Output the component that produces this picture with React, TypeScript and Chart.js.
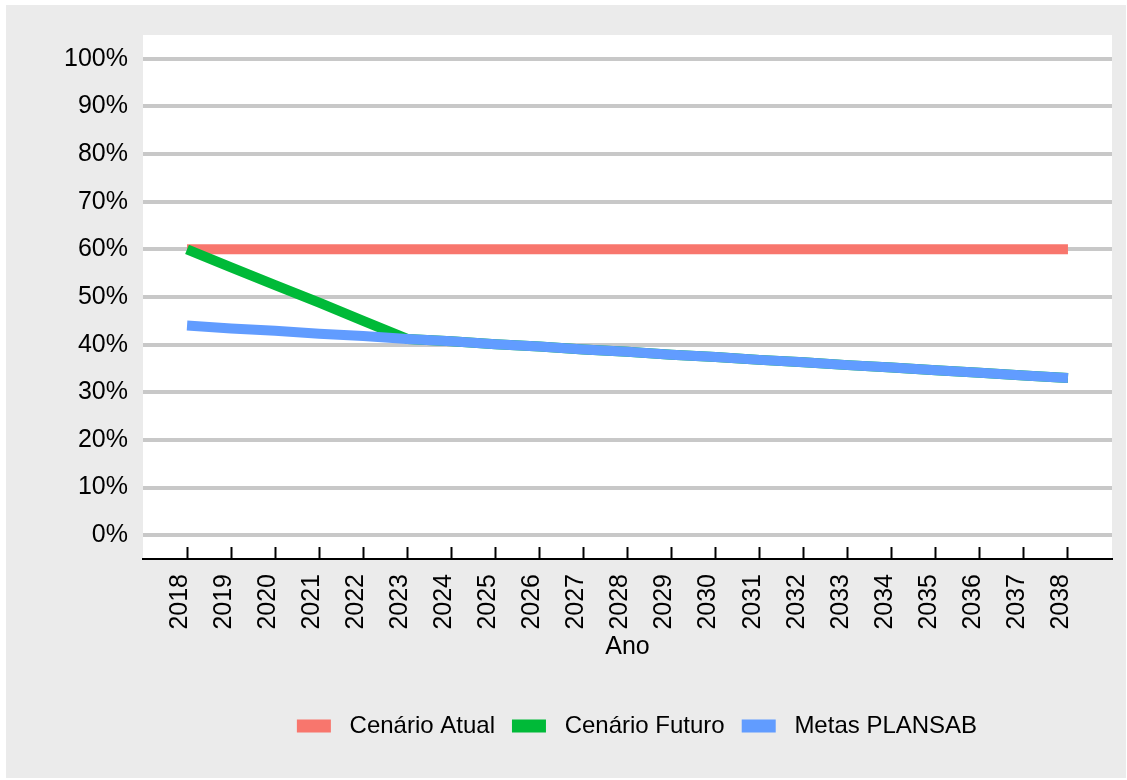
import React, { useEffect, useRef } from 'react';
import { Chart, registerables } from 'chart.js';

Chart.register(...registerables);

const years = [2018, 2019, 2020, 2021, 2022, 2023, 2024, 2025, 2026, 2027, 2028, 2029, 2030, 2031, 2032, 2033, 2034, 2035, 2036, 2037, 2038];
const cenarioAtual = [60, 60, 60, 60, 60, 60, 60, 60, 60, 60, 60, 60, 60, 60, 60, 60, 60, 60, 60, 60, 60];
const cenarioFuturo = [60, 56.2, 52.5, 48.8, 45, 41.2, 40.7, 40.1, 39.6, 39.0, 38.5, 37.9, 37.4, 36.8, 36.3, 35.7, 35.2, 34.6, 34.1, 33.5, 33];
const metasPlansab = [44, 43.4, 42.9, 42.3, 41.8, 41.2, 40.7, 40.1, 39.6, 39.0, 38.5, 37.9, 37.4, 36.8, 36.3, 35.7, 35.2, 34.6, 34.1, 33.5, 33];
const yTickValues = [0, 10, 20, 30, 40, 50, 60, 70, 80, 90, 100];
const seriesNames = ['Cenário Atual', 'Cenário Futuro', 'Metas PLANSAB'];
const xTitle = 'Ano';

const FONT = "'Liberation Sans', Arial, Helvetica, sans-serif";

const bgPlugin = {
  id: 'panelBg',
  beforeDraw(chart: any) {
    const { ctx, chartArea, width, height } = chart;
    ctx.save();
    ctx.fillStyle = '#EBEBEB';
    ctx.fillRect(0, 0, width, height);
    ctx.fillStyle = '#FFFFFF';
    ctx.fillRect(chartArea.left, chartArea.top, chartArea.right - chartArea.left, chartArea.bottom - chartArea.top);
    ctx.restore();
  },
};

const legendShiftPlugin = {
  id: 'legendShift',
  afterLayout(chart: any) {
    const lg = chart.legend;
    if (lg) {
      lg.left += 78;
      lg.right += 78;
      lg.top += 3;
      lg.bottom += 3;
    }
  },
};

export default function App() {
  const ref = useRef<HTMLCanvasElement | null>(null);

  useEffect(() => {
    if (!ref.current) return;
    const colors = ['#F8766D', '#00BA38', '#619CFF'];
    const series = [cenarioAtual, cenarioFuturo, metasPlansab];
    const orders = [2, 1, 0];
    const chart = new Chart(ref.current, {
      type: 'line',
      data: {
        datasets: series.map((vals, i) => ({
          label: seriesNames[i],
          data: years.map((yr, j) => ({ x: yr, y: vals[j] })),
          borderColor: colors[i],
          backgroundColor: colors[i],
          borderWidth: 10,
          pointRadius: 0,
          tension: 0,
          borderCapStyle: 'butt',
          borderJoinStyle: 'round',
          fill: false,
          order: orders[i],
        })),
      },
      options: {
        animation: false,
        responsive: false,
        events: [],
        layout: { padding: { top: 29, left: 0, right: 14, bottom: 33 } },
        plugins: {
          tooltip: { enabled: false },
          legend: {
            position: 'bottom',
            labels: {
              font: { family: FONT, size: 24 },
              color: '#000',
              boxWidth: 34,
              boxHeight: 13,
              padding: 17,
              generateLabels: (c: any) =>
                c.data.datasets.map((ds: any, i: number) => ({
                  text: ' ' + ds.label,
                  fillStyle: ds.borderColor,
                  strokeStyle: ds.borderColor,
                  lineWidth: 0,
                  hidden: false,
                  datasetIndex: i,
                  fontColor: '#000',
                })),
            },
          },
        },
        scales: {
          x: {
            type: 'linear',
            min: 2017,
            max: 2039,
            afterBuildTicks: (s: any) => {
              s.ticks = years.map((v) => ({ value: v }));
            },
            afterFit: (s: any) => {
              s.height = 135;
            },
            grid: {
              drawOnChartArea: false,
              drawTicks: true,
              tickLength: -12,
              tickWidth: 2,
              tickColor: '#000',
              color: '#000',
            },
            border: { display: true, color: '#000', width: 2 },
            ticks: {
              autoSkip: false,
              minRotation: 90,
              maxRotation: 90,
              padding: 27,
              labelOffset: -7,
              color: '#000',
              font: { family: FONT, size: 25 },
              callback: (v: any) => String(v),
            },
            title: {
              display: true,
              text: xTitle,
              color: '#000',
              font: { family: FONT, size: 25 },
              padding: { top: 0, bottom: 32 },
            },
          },
          y: {
            type: 'linear',
            min: -5,
            max: 105,
            afterBuildTicks: (s: any) => {
              s.ticks = yTickValues.map((v) => ({ value: v }));
            },
            afterFit: (s: any) => {
              s.width = 137;
            },
            grid: {
              drawTicks: false,
              color: '#C8C8C8',
              lineWidth: 4,
            },
            border: { display: false },
            ticks: {
              padding: 15,
              color: '#000',
              font: { family: FONT, size: 25 },
              callback: (v: any) => v + '%',
            },
          },
        },
      },
      plugins: [bgPlugin, legendShiftPlugin],
    } as any);
    return () => chart.destroy();
  }, []);

  return (
    <div style={{ position: 'absolute', left: 6, top: 5, width: 1120, height: 773 }}>
      <canvas ref={ref} width={1120} height={773} style={{ display: 'block', width: 1120, height: 773 }} />
    </div>
  );
}
